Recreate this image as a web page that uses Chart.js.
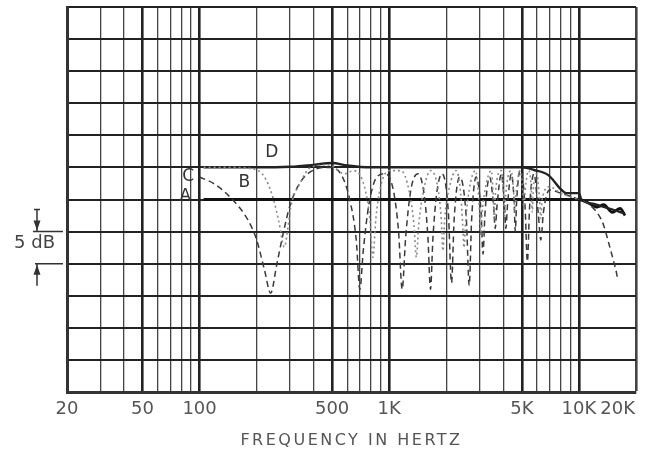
<!DOCTYPE html>
<html>
  <head>
   <meta charset='utf-8'>
   <title>Frequency response</title>
   <script src="https://cdn.jsdelivr.net/npm/chart.js@4.4.1/dist/chart.umd.min.js"></script>
   <style>body { margin: 0; background: #fff; }</style>
  </head>
  <body>
    <canvas id="chart" width="648" height="457"></canvas>
    <script>
      // log paper grid, Hz / dB
      var gridFreqs = [20,30,40,50,60,70,80,90,100,200,300,400,500,600,700,800,900,
                       1000,2000,3000,4000,5000,6000,7000,8000,9000,10000,20000];
      var heavyFreqs = [50,100,500,1000,5000,10000];
      var tickFreqs = [20,50,100,500,1000,5000,10000,20000];
      var tickNames = ['20','50','100','500','1K','5K','10K','20K'];
      var gridLevels = [0,5,10,15,20,25,30,35,40,45,50,55,60];
      var dimSpan = [20, 25];   // the "5 dB" marker

      // A - solid reference
      var aFreq  = [105, 1000, 5000, 10000, 11000, 12500, 13500, 15000, 16500, 17500];
      var aLevel = [30, 30, 30, 30, 29.6, 28.8, 29.2, 28.0, 28.6, 27.5];

      // D - upper solid
      var dFreq  = [105, 200, 300, 400, 500, 600, 800, 1000, 2000, 3000, 4000, 5000,
                    5800, 6900, 8100, 8600, 10000, 10300, 12000, 14000, 16000, 17500];
      var dLevel = [35, 35, 35.1, 35.4, 35.7, 35.3, 35, 35, 35, 35, 35, 35,
                    34.6, 33.8, 31.5, 31, 31, 30, 29.3, 28.7, 28.2, 27.8];

      // B - dotted
      var bFreq  = [105, 150, 200, 225, 246, 262, 280, 292, 302, 341, 385, 480, 580,
                    650, 740, 790, 820, 850, 900, 1000, 1150, 1280, 1350, 1390, 1430,
                    1520, 1650, 1800, 1880, 1920, 1960, 2080, 2250, 2380, 2440, 2480,
                    2520, 2640, 2850, 2950, 3000, 3040, 3080, 3200, 3450, 3530, 3580,
                    3630, 3900, 4000, 4060, 4120, 4400, 4530, 4600, 4670, 4900, 5050,
                    5130, 5210, 5450, 5600, 5680, 5760, 6000, 6200, 6300, 6400, 7000,
                    8000, 10000];
      var bLevel = [35, 35, 34.6, 33, 29.9, 26.5, 22.6, 25.5, 28.7, 32.7, 35, 35.4, 34,
                    34.5, 32, 27, 21, 27, 32, 34.5, 34.5, 31, 26, 21, 26,
                    31.5, 34.5, 32, 27, 22, 27, 32, 34.5, 31, 26, 22.5,
                    26, 31.5, 34.5, 31, 27.5, 24.5, 27.5, 31.5, 34.5, 31, 27,
                    31, 34.5, 31, 27.5, 31, 34.5, 31, 28, 31, 34.5, 31.5,
                    28.5, 31.5, 34.5, 32, 28, 32, 34, 30, 27, 30, 32,
                    31, 30];

      // C - dashed
      var cFreq  = [100, 120, 150, 180, 200, 220, 237, 255, 275, 300, 340, 400, 480,
                    560, 620, 670, 700, 730, 780, 860, 950, 1050, 1120, 1170, 1220,
                    1300, 1420, 1540, 1600, 1650, 1700, 1780, 1900, 2050, 2130, 2200,
                    2350, 2550, 2640, 2720, 2870, 3050, 3120, 3200, 3380, 3550, 3620,
                    3700, 3900, 4050, 4120, 4200, 4400, 4550, 4620, 4700, 4900, 5200,
                    5350, 5500, 5800, 6100, 6300, 6500, 7000, 8000, 9000, 10000, 11000,
                    12700, 13500, 14300, 15200, 15800, 16000];
      var cLevel = [33.5, 32.4, 29.9, 26.8, 23.7, 19, 15.4, 19.8, 24.5, 29.1, 32.7, 34.6, 35,
                    33.8, 29.9, 23.7, 16, 22.1, 29.1, 33.5, 34, 31.5, 25, 16, 24,
                    31.5, 34, 30, 24, 16, 24, 31, 34, 28, 17, 27,
                    33.5, 27, 16.6, 27, 33.5, 28, 21.5, 28, 33.5, 29, 25.5,
                    29, 34, 29, 25.5, 29, 34, 30, 25, 30, 34.5, 29,
                    20.3, 29, 34, 28, 23.7, 28, 31.5, 31, 30.5, 30, 29.5,
                    27.6, 26, 23.4, 20.5, 18.5, 17.5];

      var curveNames = [
        {text: 'A', f: 84, v: 30.4},
        {text: 'B', f: 172, v: 32.6},
        {text: 'C', f: 87, v: 33.6},
        {text: 'D', f: 240, v: 37.3}
      ];

      function pts(fs, vs) {
        return fs.map(function (f, i) { return {x: f, y: vs[i]}; });
      }

      // the printed "20K" sits inside the frame, so its label rides on a tick just left of the edge
      var edgeLabelFreq = tickFreqs[tickFreqs.length - 1] / 1.25;
      var labelAt = {};
      tickFreqs.forEach(function (f, i) {
        labelAt[i === tickFreqs.length - 1 ? edgeLabelFreq : f] = tickNames[i];
      });
      var dimLabelLevel = (dimSpan[0] + dimSpan[1]) / 2 + 0.6;

      var font = "'DejaVu Sans', sans-serif";

      var spacedTitle = {
        id: 'spacedTitle',
        afterLayout: function (chart) {
          var s = chart.scales.x;
          if (s._spaced) return;
          var orig = s.drawTitle;
          s.drawTitle = function () {
            var c = this.ctx;
            c.save();
            c.letterSpacing = '2.5px';
            orig.call(this);
            c.restore();
          };
          s._spaced = true;
        }
      };

      var marks = {
        id: 'marks',
        afterDraw: function (chart) {
          var ctx = chart.ctx, xs = chart.scales.x, ys = chart.scales.y;
          ctx.save();
          ctx.fillStyle = '#333';
          ctx.font = '17px ' + font;
          ctx.textAlign = 'center';
          ctx.textBaseline = 'middle';
          curveNames.forEach(function (n) {
            ctx.fillText(n.text, xs.getPixelForValue(n.f), ys.getPixelForValue(n.v));
          });
          // 5 dB dimension marker
          var top = ys.getPixelForValue(dimSpan[1]), bot = ys.getPixelForValue(dimSpan[0]);
          var ax = 37, edge = chart.chartArea.left - 4;
          ctx.strokeStyle = '#333';
          ctx.fillStyle = '#333';
          ctx.lineWidth = 1.5;
          ctx.beginPath();
          ctx.moveTo(33, top); ctx.lineTo(edge, top);
          ctx.moveTo(35, bot); ctx.lineTo(edge, bot);
          ctx.moveTo(ax, top - 22); ctx.lineTo(ax, top);
          ctx.moveTo(ax - 3, top - 22); ctx.lineTo(ax + 3, top - 22);
          ctx.moveTo(ax, bot + 22); ctx.lineTo(ax, bot);
          ctx.stroke();
          ctx.beginPath();
          ctx.moveTo(ax - 3.5, top - 11); ctx.lineTo(ax + 3.5, top - 11); ctx.lineTo(ax, top - 1);
          ctx.closePath();
          ctx.moveTo(ax - 3.5, bot + 11); ctx.lineTo(ax + 3.5, bot + 11); ctx.lineTo(ax, bot + 1);
          ctx.closePath();
          ctx.fill();
          ctx.restore();
        }
      };

      var ctx = document.getElementById('chart').getContext('2d');
      var chart = new Chart(ctx, {
        type: 'line',
        data: {
          datasets: [
            {label: 'B', data: pts(bFreq, bLevel), borderColor: '#8a8a8a', borderWidth: 1.6,
             borderDash: [2, 3], cubicInterpolationMode: 'monotone'},
            {label: 'C', data: pts(cFreq, cLevel), borderColor: '#3a3a3a', borderWidth: 1.5,
             borderDash: [6, 4], cubicInterpolationMode: 'monotone'},
            {label: 'D', data: pts(dFreq, dLevel), borderColor: '#222', borderWidth: 2.4,
             cubicInterpolationMode: 'monotone'},
            {label: 'A', data: pts(aFreq, aLevel), borderColor: '#111', borderWidth: 2.8,
             cubicInterpolationMode: 'monotone'}
          ]
        },
        options: {
          responsive: false,
          animation: false,
          devicePixelRatio: 1,
          layout: {padding: {top: 7, right: 12, left: 0, bottom: 0}},
          elements: {point: {radius: 0}},
          plugins: {legend: {display: false}, tooltip: {enabled: false}},
          scales: {
            x: {
              type: 'logarithmic',
              min: 20,
              max: 20000,
              afterBuildTicks: function (scale) {
                var vals = gridFreqs.concat([edgeLabelFreq]).sort(function (a, b) { return a - b; });
                scale.ticks = vals.map(function (v) { return {value: v}; });
              },
              afterFit: function (scale) {
                scale.height = 65;
                scale.paddingLeft = 0;
                scale.paddingRight = 0;
              },
              ticks: {
                autoSkip: false,
                maxRotation: 0,
                padding: 7,
                color: '#555',
                font: {family: font, size: 18},
                callback: function (v) { return labelAt[v] || ''; }
              },
              grid: {
                drawTicks: false,
                color: function (c) {
                  return heavyFreqs.indexOf(c.tick.value) >= 0 ? '#222' : '#444';
                },
                lineWidth: function (c) {
                  var v = c.tick.value;
                  if (gridFreqs.indexOf(v) < 0) return 0;
                  return heavyFreqs.indexOf(v) >= 0 || v === 20000 ? 2.6 : 1.3;
                }
              },
              border: {color: '#333', width: 3},
              title: {
                display: true,
                text: 'FREQUENCY IN HERTZ',
                color: '#555',
                font: {family: font, size: 16},
                padding: {top: 0, bottom: 7}
              }
            },
            y: {
              min: 0,
              max: 60,
              afterBuildTicks: function (scale) {
                var vals = gridLevels.concat([dimLabelLevel]).sort(function (a, b) { return a - b; });
                scale.ticks = vals.map(function (v) { return {value: v}; });
              },
              afterFit: function (scale) {
                scale.width = 67;
                scale.paddingTop = 0;
                scale.paddingBottom = 0;
              },
              ticks: {
                padding: 12,
                color: '#444',
                font: {family: font, size: 18},
                callback: function (v) { return v === dimLabelLevel ? '5 dB' : ''; }
              },
              grid: {
                drawTicks: false,
                color: '#222',
                lineWidth: function (c) { return gridLevels.indexOf(c.tick.value) >= 0 ? 2 : 0; }
              },
              border: {color: '#333', width: 3}
            }
          }
        },
        plugins: [spacedTitle, marks]
      });
    </script>
  </body>
</html>
